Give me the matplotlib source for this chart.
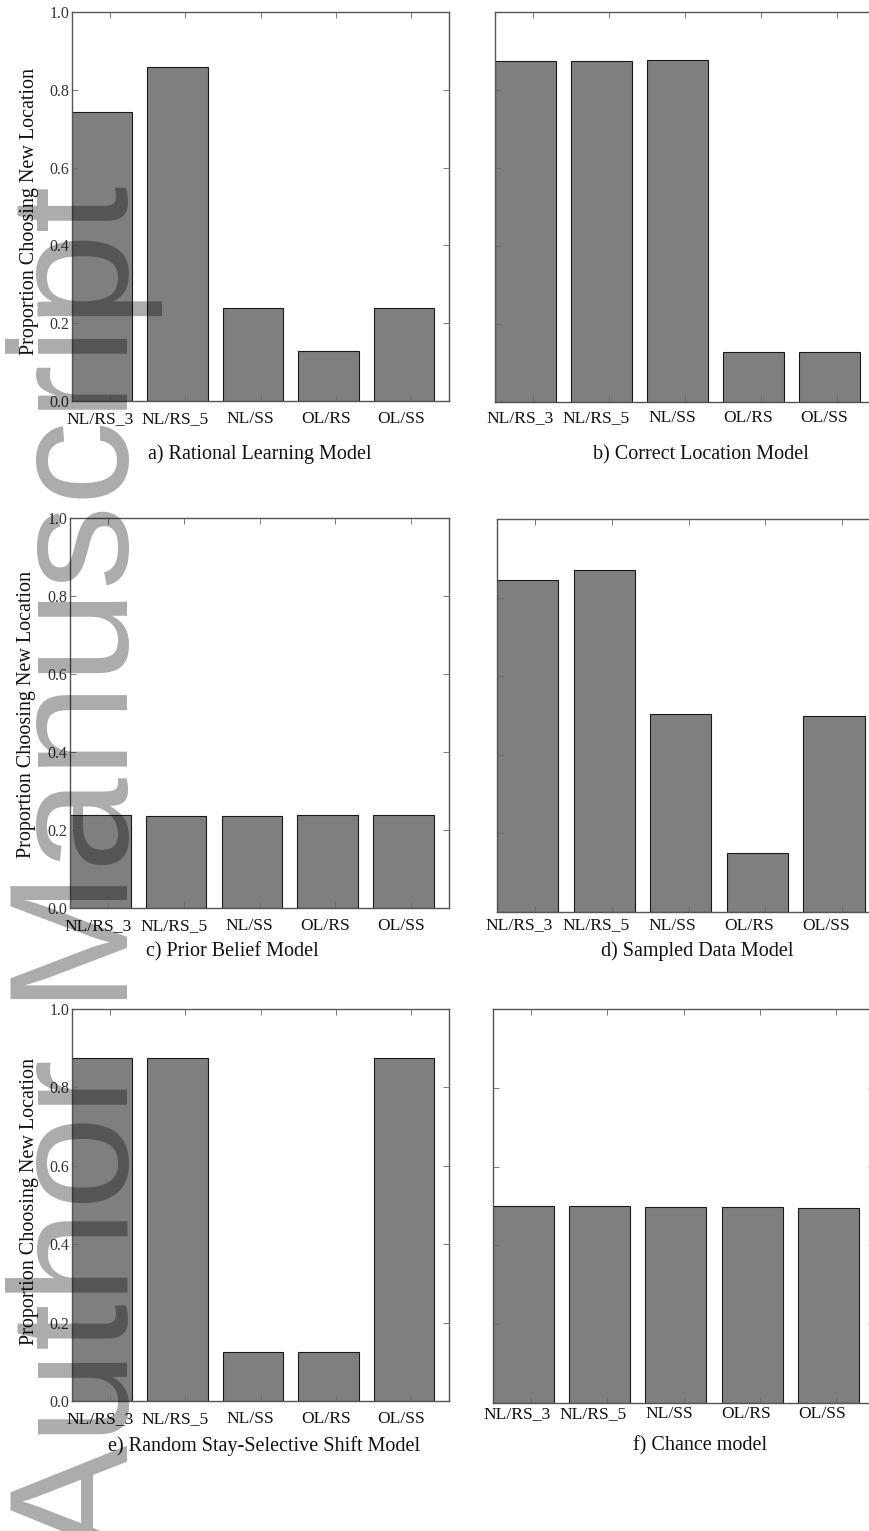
import numpy as np
import matplotlib
matplotlib.use("Agg")
import matplotlib.pyplot as plt
from matplotlib.transforms import ScaledTranslation

# ---- data -------------------------------------------------------------
conditions = ["NL/RS_3", "NL/RS_5", "NL/SS", "OL/RS", "OL/SS"]

rational_learning = [0.743, 0.859, 0.238, 0.129, 0.238]
correct_location = [0.875, 0.875, 0.877, 0.127, 0.127]
prior_belief = [0.239, 0.237, 0.237, 0.238, 0.238]
sampled_data = [0.844, 0.869, 0.504, 0.150, 0.500]
random_stay_shift = [0.875, 0.875, 0.126, 0.126, 0.875]
chance = [0.500, 0.499, 0.498, 0.497, 0.496]

panel_titles = [
    "a) Rational Learning Model",
    "b) Correct Location Model",
    "c) Prior Belief Model",
    "d) Sampled Data Model",
    "e) Random Stay-Selective Shift Model",
    "f) Chance model",
]
y_label = "Proportion Choosing New Location"
y_ticks = [0.0, 0.2, 0.4, 0.6, 0.8, 1.0]
watermark = "Author Manuscript"

# ---- layout -----------------------------------------------------------
W, H = 869, 1531
DPI = 100
plt.rcParams["font.family"] = ["Liberation Serif", "DejaVu Serif"]

fig = plt.figure(figsize=(W / DPI, H / DPI), dpi=DPI)


def px_axes(x, top, w, h):
    return fig.add_axes([x / W, 1 - (top + h) / H, w / W, h / H])


# (values, box px, y labels shown, y-label centre, tick-label shift px, pad pt)
panels = [
    (rational_learning, (72, 12, 377, 389), True, 0.487, -10, 7.0),
    (correct_location, (495, 12, 380, 390), False, None, -13, 6.0),
    (prior_belief, (70, 518, 379, 390), True, 0.495, -10, 7.5),
    (sampled_data, (497, 519, 383, 393), False, None, -16, 4.0),
    (random_stay_shift, (72, 1009, 377, 392), True, 0.51, -10, 7.5),
    (chance, (493, 1009, 381, 394), False, None, -14, 2.5),
]

title_pos = [(260, 454), (701, 455), (232, 952), (697, 951), (264, 1446), (700, 1446)]

ind = np.arange(len(conditions))
bar_w = 0.8

for k, (vals, box, show_y, ylab_y, shift, pad) in enumerate(panels):
    ax = px_axes(*box)
    ax.bar(ind, vals, bar_w, align="edge", color="#7f7f7f",
           edgecolor="#1a1a1a", linewidth=0.8)
    ax.set_xlim(0, len(conditions))
    ax.set_ylim(0, 1.0)

    ax.set_xticks(ind + 0.5)
    ax.set_xticklabels(conditions, fontsize=12.6, color="#111111")
    ax.set_yticks(y_ticks)
    if show_y:
        ax.set_yticklabels([f"{t:.1f}" for t in y_ticks], fontsize=11.5,
                           color="#333333")
        ax.text(-0.114, ylab_y, y_label, transform=ax.transAxes,
                rotation=90, ha="center", va="center", fontsize=14.5,
                color="#111111")
    else:
        ax.set_yticklabels([])

    ax.tick_params(axis="both", direction="in", length=4, width=0.6,
                   color="#666666", top=True, right=True)
    ax.tick_params(axis="x", pad=pad)
    ax.tick_params(axis="y", pad=2)

    off = ScaledTranslation(shift / DPI, 0, fig.dpi_scale_trans)
    for lab in ax.get_xticklabels():
        lab.set_transform(lab.get_transform() + off)

    for sp in ax.spines.values():
        sp.set_color("#555555")
        sp.set_linewidth(1.0)

    tx, ty = title_pos[k]
    fig.text(tx / W, 1 - ty / H, panel_titles[k], ha="center", va="center",
             fontsize=14.5, color="#111111")

# vertical repository stamp along the left margin
fig.text(128 / W, 1 - 1557 / H, watermark, rotation=90, rotation_mode="anchor",
         ha="left", va="baseline", fontsize=121.7, color="black", alpha=0.33,
         family=["Liberation Sans", "DejaVu Sans"], zorder=10)

fig.savefig("out.png", dpi=DPI)
